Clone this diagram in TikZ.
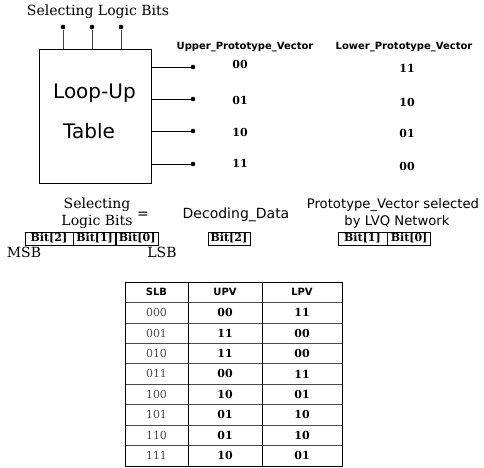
\documentclass[tikz,border=0pt]{standalone}
\usepackage{fontspec}
\setmainfont{DejaVu Serif}
\setsansfont{DejaVu Sans}
\newcommand{\fs}[1]{\fontsize{#1}{#1}\selectfont}
\tikzset{
  dot/.style={circle, fill=black, inner sep=0pt, minimum size=4.6pt},
  pinline/.style={draw=black!75, line width=0.9pt},
  outline/.style={draw=black, line width=0.7pt},
  serif14/.style={font=\rmfamily\fs{14}, inner sep=0pt},
  sans14/.style={font=\sffamily\fs{14}, inner sep=0pt},
  big/.style={font=\sffamily\fs{20}, inner sep=0pt, anchor=west},
  hdr/.style={font=\sffamily\bfseries\fs{10}, inner sep=0pt},
  val/.style={font=\rmfamily\bfseries\fs{11}, inner sep=0pt},
  bitbox/.style={draw=black, line width=0.6pt, font=\rmfamily\bfseries\fs{11}, inner sep=0pt, minimum height=13pt},
  thin/.style={font=\rmfamily\fs{11}, text=black!70, inner sep=0pt},
  grid/.style={draw=black!70, line width=0.6pt},
  frame/.style={draw=black, line width=1pt}
}
\begin{document}
\begin{tikzpicture}[x=1pt,y=-1pt]
\useasboundingbox (0,0) rectangle (484,467);

% top block
\node[serif14] (slbt) at (98,12) {Selecting Logic Bits};
\node[draw=black, line width=0.8pt, minimum width=112pt, minimum height=134pt, inner sep=0pt, anchor=north west] (lut) at (39,49) {};
\node[big] (l1) at (53,93) {Loop-Up};
\node[big] (l2) at (63,131) {Table};

\foreach \i/\x in {1/63,2/92,3/121}{
  \node[dot] (p\i) at (\x,27) {};
  \draw[pinline] (p\i) -- (p\i |- lut.north);
}
\foreach \i/\y in {1/67,2/99,3/131,4/164}{
  \node[dot] (o\i) at (193,\y) {};
  \draw[outline] (o\i -| lut.east) -- (o\i);
}

\node[hdr] (uh) at (245,47) {Upper\_Prototype\_Vector};
\node[hdr] (lh) at (404,47) {Lower\_Prototype\_Vector};
\foreach \i/\y/\t in {1/64/00,2/100/01,3/132/10,4/163/11}{
  \node[val] (u\i) at (240,\y) {\t};
}
\foreach \i/\y/\t in {1/68/11,2/102/10,3/133/01,4/166/00}{
  \node[val] (w\i) at (407,\y) {\t};
}

% middle
\node[serif14] (s1) at (97,205) {Selecting};
\node[serif14] (s2) at (97,222) {Logic Bits};
\node[sans14] (eq) at (143,215) {=};
\node[sans14] (dd) at (236,215) {Decoding\_Data};
\node[font=\sffamily\fs{13.2}, inner sep=0pt] (pv1) at (393,205) {Prototype\_Vector selected};
\node[font=\sffamily\fs{13.2}, inner sep=0pt] (pv2) at (397,222) {by LVQ Network};

\node[bitbox, minimum width=48pt] (a2) at (49,238.5) {Bit[2]};
\node[bitbox, minimum width=42pt, anchor=west] (a1) at (a2.east) {Bit[1]};
\node[bitbox, minimum width=42pt, anchor=west] (a0) at (a1.east) {Bit[0]};
\node[bitbox, minimum width=42pt] (d2) at (229,238.5) {Bit[2]};
\node[bitbox, minimum width=49pt] (c1) at (362.5,238.5) {Bit[1]};
\node[bitbox, minimum width=43pt, anchor=west] (c0) at (c1.east) {Bit[0]};
\node[serif14] (msb) at (24,252) {MSB};
\node[serif14] (lsb) at (162,252) {LSB};

% table
\def\rh{20.44}
\foreach \k in {1,...,8}{
  \draw[grid] (125,282+\k*\rh) -- (342,282+\k*\rh);
}
\draw[grid, draw=black] (188,282) -- (188,466.5);
\draw[grid, draw=black] (262,282) -- (262,466.5);
\draw[frame] (125,282) rectangle (342,466.5);

\node[hdr] (h1) at (156.5,282+0.5*\rh) {SLB};
\node[hdr] (h2) at (225,282+0.5*\rh) {UPV};
\node[hdr] (h3) at (302,282+0.5*\rh) {LPV};
\foreach \r/\s/\u/\l in {1/000/00/11,2/001/11/00,3/010/11/00,4/011/00/11,5/100/10/01,6/101/01/10,7/110/01/10,8/111/10/01}{
  \node[thin] (ts\r) at (156.5,282+\r*\rh+0.5*\rh) {\s};
  \node[val] (tu\r) at (225,282+\r*\rh+0.5*\rh) {\u};
  \node[val] (tl\r) at (302,282+\r*\rh+0.5*\rh) {\l};
}
\end{tikzpicture}
\end{document}
